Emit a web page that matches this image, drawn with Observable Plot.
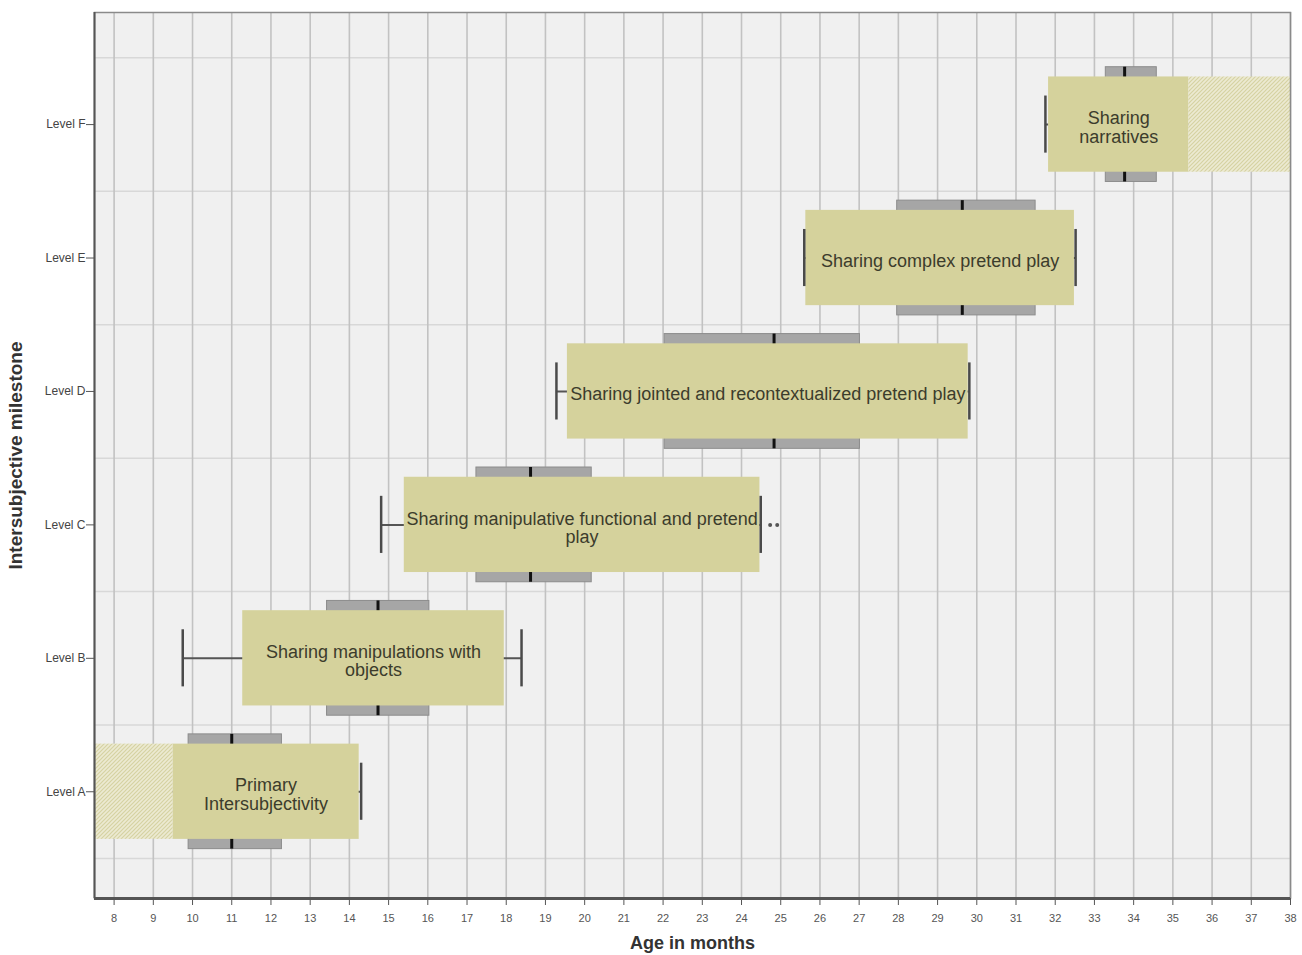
<!DOCTYPE html>
<html>
<head>
<meta charset="utf-8">
<script src="https://cdn.jsdelivr.net/npm/d3@7"></script>
<script src="https://cdn.jsdelivr.net/npm/@observablehq/plot@0.6"></script>
<style>
  html, body { margin: 0; padding: 0; background: #ffffff; }
  svg { display: block; }
</style>
</head>
<body>
<div id="chart"></div>
<script>
// ---- data ----
const levels = ["Level A", "Level B", "Level C", "Level D", "Level E", "Level F"];
const milestones = [
  "Primary\nIntersubjectivity",
  "Sharing manipulations with\nobjects",
  "Sharing manipulative functional and pretend\nplay",
  "Sharing jointed and recontextualized pretend play",
  "Sharing complex pretend play",
  "Sharing\nnarratives"
];
const rangeLo   = [9.5, 11.28, 15.40, 19.56, 25.64, 31.83];
const rangeHi   = [14.25, 17.95, 24.47, 29.78, 32.49, 35.41];
const q1        = [9.90, 13.43, 17.24, 22.04, 27.97, 33.29];
const q3        = [12.28, 16.04, 20.18, 27.02, 31.50, 34.59];
const medians   = [11.0, 14.73, 18.62, 24.83, 29.63, 33.77];
const whiskerLo = [null, 9.75, 14.81, 19.28, 25.60, 31.75];
const whiskerHi = [14.30, 18.39, 24.49, 29.81, 32.52, null];
const hatchLevels = ["Level A", "Level F"];
const hatchLo = [7.5, 35.41];
const hatchHi = [9.5, 38];
const outlierLevels = ["Level C", "Level C"];
const outlierAges = [24.73, 24.91];
const ageTicks = d3.range(8, 39);

// ---- build tables ----
const idx = l => levels.indexOf(l) + 1;
const rows = levels.map((l, i) => ({
  level: l, y: i + 1, label: milestones[i],
  lo: rangeLo[i], hi: rangeHi[i], q1: q1[i], q3: q3[i], med: medians[i],
  wlo: whiskerLo[i], whi: whiskerHi[i]
}));
const hatchRows = hatchLevels.map((l, i) => ({y: idx(l), lo: hatchLo[i], hi: hatchHi[i]}));
const outRows = outlierLevels.map((l, i) => ({y: idx(l), x: outlierAges[i]}));
const capRows = [];
rows.forEach(r => {
  if (r.wlo != null) capRows.push({y: r.y, x: r.wlo});
  if (r.whi != null) capRows.push({y: r.y, x: r.whi});
});
const whiskRows = rows.map(r => ({y: r.y, x1: r.wlo ?? r.lo, x2: r.whi ?? r.hi}));

const BOX = 0.43, RANGE = 0.357, CAP = 0.214;

const svg = Plot.plot({
  width: 1302,
  height: 955,
  marginLeft: 94,
  marginRight: 12,
  marginTop: 12,
  marginBottom: 57,
  style: {background: "#ffffff", fontFamily: "'Liberation Sans', Arial, sans-serif", color: "#555"},
  x: {domain: [7.5, 38], axis: null},
  y: {domain: [0.2, 6.84], axis: null},
  marks: [
    Plot.frame({fill: "#f0f0f0", stroke: null}),
    Plot.ruleY(d3.range(0.5, 7, 1), {stroke: "#d8d8d8", strokeWidth: 1.5}),
    Plot.ruleX(ageTicks, {stroke: "#c2c2c2", strokeWidth: 1.6}),
    // grey quartile boxes
    Plot.rect(rows, {x1: "q1", x2: "q3", y1: d => d.y - BOX, y2: d => d.y + BOX,
      fill: "#a6a6a6", stroke: "#8c8c8c", strokeWidth: 1}),
    Plot.ruleX(rows, {x: "med", y1: d => d.y - BOX, y2: d => d.y + BOX, stroke: "#111", strokeWidth: 3}),
    // whiskers
    Plot.ruleY(whiskRows, {y: "y", x1: "x1", x2: "x2", stroke: "#555", strokeWidth: 2}),
    // milestone range boxes
    Plot.rect(rows, {x1: "lo", x2: "hi", y1: d => d.y - RANGE, y2: d => d.y + RANGE, fill: "#d5d29c"}),
    Plot.rect(hatchRows, {x1: "lo", x2: "hi", y1: d => d.y - RANGE, y2: d => d.y + RANGE, fill: "url(#hatch)"}),
    Plot.ruleX(capRows, {x: "x", y1: d => d.y - CAP, y2: d => d.y + CAP, stroke: "#4a4a4a", strokeWidth: 2.5}),
    Plot.dot(outRows, {x: "x", y: "y", r: 2, fill: "#555", stroke: null}),
    Plot.text(rows, {x: d => (d.lo + d.hi) / 2, y: "y", dy: 3, text: "label", fontSize: 18,
      lineHeight: 1.02, fill: "#3c3c2c"}),
    // frame & axes
    Plot.frame({stroke: "#8a8a8a", strokeWidth: 1.5}),
    Plot.ruleX([7.5], {stroke: "#555", strokeWidth: 2}),
    Plot.ruleY([0.2], {stroke: "#555", strokeWidth: 3}),
    Plot.axisX({ticks: ageTicks, tickSize: 7, tickPadding: 9, fontSize: 11, label: null, stroke: "#555", fill: "#555"}),
    Plot.axisY({ticks: [1, 2, 3, 4, 5, 6], tickFormat: d => levels[d - 1], tickSize: 8, tickPadding: 1,
      fontSize: 12, label: null, stroke: "#555", fill: "#444"}),
    Plot.text(["Age in months"], {frameAnchor: "bottom", dy: 50, fontWeight: "bold", fontSize: 18, fill: "#333"}),
    Plot.text(["Intersubjective milestone"], {frameAnchor: "left", dx: -79, rotate: -90, textAnchor: "middle",
      fontWeight: "bold", fontSize: 19, fill: "#333"})
  ]
});

// hatch pattern definition
const NS = "http://www.w3.org/2000/svg";
const defs = document.createElementNS(NS, "defs");
const pat = document.createElementNS(NS, "pattern");
pat.setAttribute("id", "hatch");
pat.setAttribute("patternUnits", "userSpaceOnUse");
pat.setAttribute("width", "4");
pat.setAttribute("height", "4");
const bg = document.createElementNS(NS, "rect");
bg.setAttribute("width", "4"); bg.setAttribute("height", "4"); bg.setAttribute("fill", "#ecead2");
const ln = document.createElementNS(NS, "path");
ln.setAttribute("d", "M-1,1 l2,-2 M0,4 l4,-4 M3,5 l2,-2");
ln.setAttribute("stroke", "#d6d2a2"); ln.setAttribute("stroke-width", "1.2");
pat.appendChild(bg); pat.appendChild(ln);
defs.appendChild(pat);
svg.insertBefore(defs, svg.firstChild);

document.getElementById("chart").appendChild(svg);
</script>
</body>
</html>
